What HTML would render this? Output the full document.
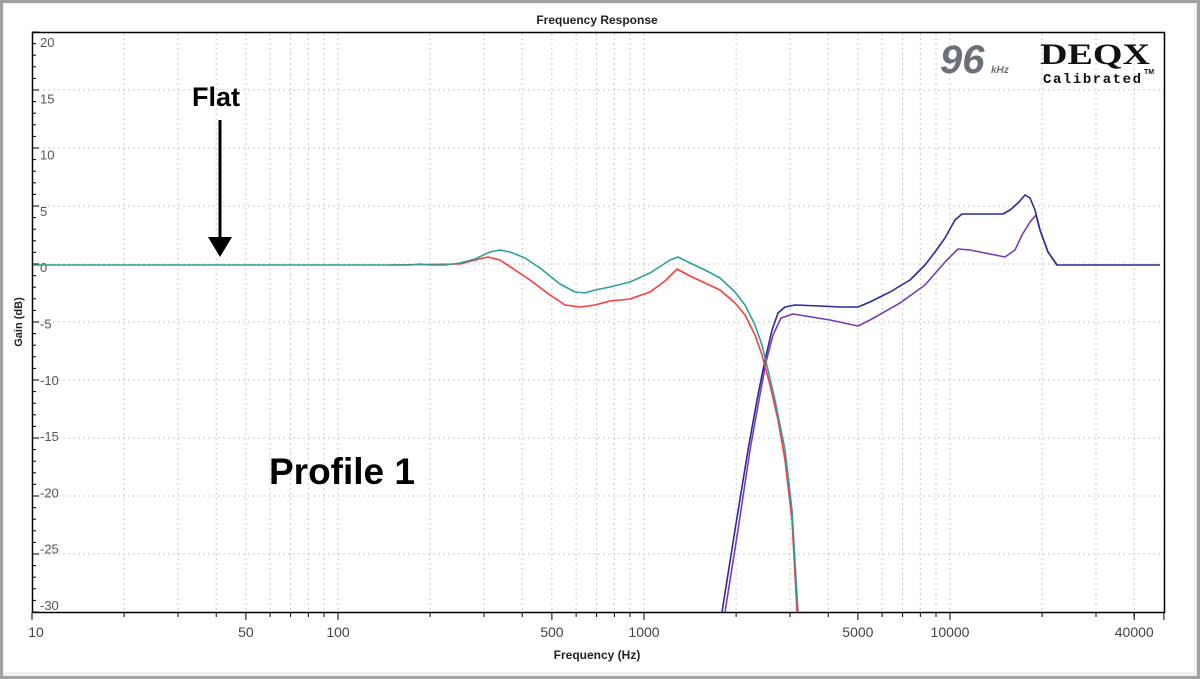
<!DOCTYPE html>
<html><head><meta charset="utf-8"><style>
html,body{margin:0;padding:0;background:#fff;}
svg{display:block;font-family:"Liberation Sans",Arial,sans-serif;}
</style></head><body>
<svg id="s" width="1200" height="679" viewBox="0 0 1200 679" xmlns="http://www.w3.org/2000/svg">
<rect x="0" y="0" width="1200" height="679" fill="#a0a0a0"/>
<rect x="3" y="3" width="1194" height="673" fill="#f0f0f0"/>
<rect x="4" y="4" width="1190" height="668" fill="#fff"/>
<g id="grid" stroke="#c8c8c8" stroke-width="1" stroke-dasharray="2,3"></g>
<g id="ticks" stroke="#000" stroke-width="1"></g>
<rect x="32.5" y="32.5" width="1132" height="580" fill="none" stroke="#000" stroke-width="1.5"/>
<text x="597" y="24" font-size="12" font-weight="bold" text-anchor="middle" fill="#222">Frequency Response</text>
<text x="597" y="659" font-size="12" font-weight="bold" text-anchor="middle" fill="#222">Frequency (Hz)</text>
<text transform="translate(22,322) rotate(-90)" font-size="11" font-weight="bold" text-anchor="middle" fill="#222">Gain (dB)</text>
<g id="ylab" font-size="13" fill="#555"></g>
<g id="xlab" font-size="14" fill="#444" text-anchor="middle"></g>
<text x="940" y="73" font-size="40" font-weight="bold" font-style="italic" fill="#6b7078">96</text>
<text x="991" y="73" font-size="10" font-weight="bold" font-style="italic" fill="#6b7078">kHz</text>
<text x="1040" y="64" font-size="30" font-weight="bold" font-family="Liberation Serif,serif" fill="#111" textLength="110" lengthAdjust="spacingAndGlyphs">DEQX</text>
<text x="1043" y="83" font-size="14" font-weight="bold" font-family="Liberation Mono,monospace" fill="#111" textLength="98">Calibrated</text>
<text x="1144" y="74" font-size="7" font-weight="bold" fill="#111">TM</text>
<text x="192" y="106" font-size="27" font-weight="bold" fill="#000">Flat</text>
<line x1="220" y1="120" x2="220" y2="240" stroke="#000" stroke-width="3"/>
<polygon points="208,237 232,237 220,257" fill="#000"/>
<text x="269" y="484" font-size="37" font-weight="bold" fill="#000">Profile 1</text>
<g fill="none" stroke-width="1.6" stroke-linejoin="round">
<polyline stroke="#7a3ab8" points="725,612 738,530 750,450 759,400 766,362 773,335 781,318 793,314 830,320 858,326 870,320 900,303 925,285 945,262 958,249 970,250 995,255 1005,257 1015,250 1022,235 1030,222 1036,215 1040,230 1048,252 1057,265"/>
<polyline stroke="#2a2a9a" points="722,612 735,530 748,450 757,400 765,360 772,330 778,313 785,307 795,305 820,306 840,307 858,307 870,302 890,292 910,280 925,265 935,252 945,238 955,220 962,214 985,214 1003,214 1010,210 1018,203 1025,195 1030,198 1035,210 1040,230 1048,252 1057,265 1160,265"/>
<polyline stroke="#ff3a3a" points="390,265 460,264 475,260 488,257 500,260 515,270 530,280 550,295 565,305 580,307 595,305 610,301 630,299 650,292 665,281 677,269 690,276 705,283 720,290 735,303 745,315 755,335 762,355 770,385 778,420 785,460 792,520 797,612"/>
<polyline stroke="#2aa0a0" points="33,265 410,265 420,264 430,265 445,265 460,263 475,259 490,252 500,250 510,252 525,258 540,268 560,284 575,292 585,293 595,290 610,287 630,282 650,273 670,260 678,257 690,263 705,270 720,278 735,292 745,305 755,325 762,345 768,370 775,400 785,450 792,510 798,612"/>
</g>
</svg>
<script>
(function(){
var ns="http://www.w3.org/2000/svg";
function el(p,t,a,txt){var e=document.createElementNS(ns,t);for(var k in a)e.setAttribute(k,a[k]);if(txt)e.textContent=txt;document.getElementById(p).appendChild(e);}
function X(f){return 32+306*Math.log10(f/10);}
function Y(d){return 264-11.6*d;}
for(var dec=10;dec<=10000;dec*=10){for(var m=1;m<10;m++){var f=dec*m;var x=X(f);if(x>1164)break;
 if(f>10){el("grid","line",{x1:x,y1:33,x2:x,y2:612});}
 el("ticks","line",{x1:x,y1:612,x2:x,y2:(m==1||m==5)?620:617});}}
el("ticks","line",{x1:X(40000),y1:612,x2:X(40000),y2:620});
for(var d=-30;d<=20;d++){var y=Y(d);
 if(d%5==0){if(d>-30&&d<20)el("grid","line",{x1:33,y1:y,x2:1164,y2:y});el("ticks","line",{x1:32,y1:y,x2:39,y2:y});
  el("ylab","text",{x:40,y:42+11.26*(20-d)+5},String(d));}
 else el("ticks","line",{x1:32,y1:y,x2:36,y2:y});}
[[10,"10"],[50,"50"],[100,"100"],[500,"500"],[1000,"1000"],[5000,"5000"],[10000,"10000"],[40000,"40000"]].forEach(function(p){
 var x=X(p[0]);if(p[0]==10)x+=4;el("xlab","text",{x:x,y:637},p[1]);});
})();
</script>
</body></html>
